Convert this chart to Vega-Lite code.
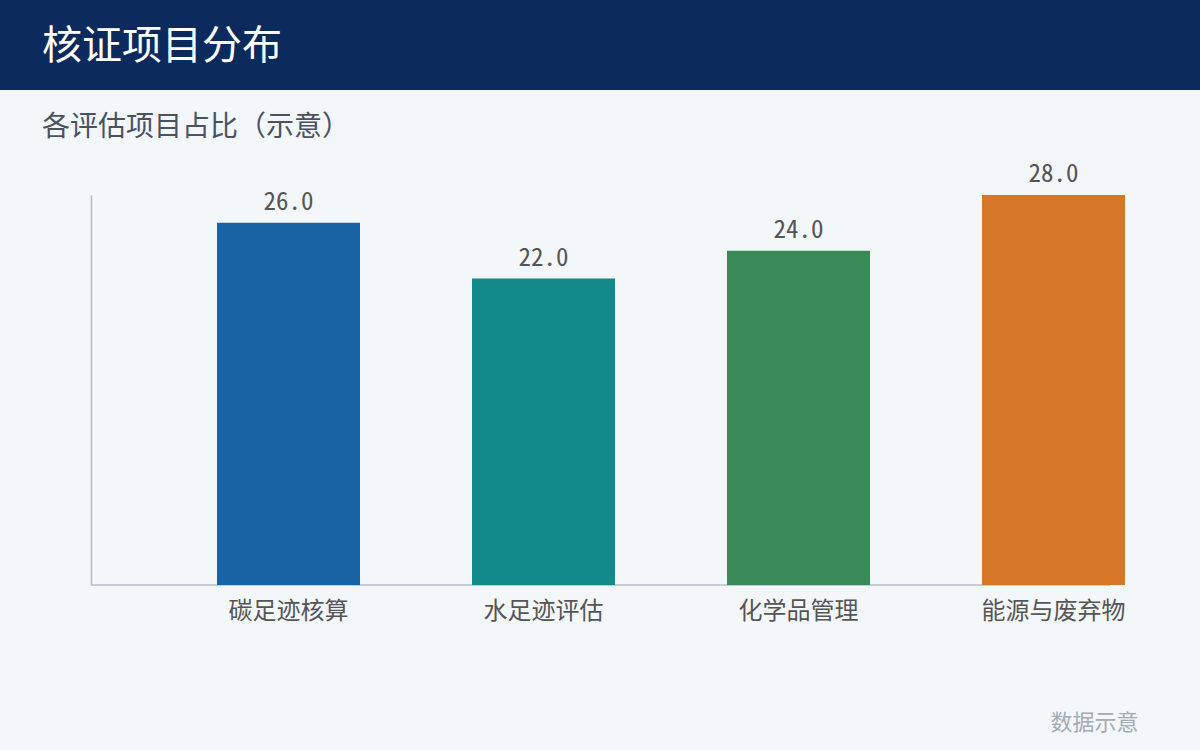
{
  "$schema": "https://vega.github.io/schema/vega-lite/v6.json",
  "width": 1200,
  "height": 660,
  "autosize": {"type": "none"},
  "padding": {"left": 0, "top": 90, "right": 0, "bottom": 0},
  "background": "#0c2a5c",
  "view": {"fill": "#f4f7fa", "stroke": null},
  "title": {
    "text": "核证项目分布",
    "subtitle": "各评估项目占比（示意）",
    "anchor": "start",
    "frame": "group",
    "orient": "top",
    "dx": 42,
    "offset": -51.5,
    "baseline": "top",
    "font": "Noto Sans CJK SC",
    "fontSize": 40,
    "fontWeight": "normal",
    "color": "#ffffff",
    "subtitleFont": "Noto Sans CJK SC",
    "subtitleFontSize": 28,
    "subtitleColor": "#4a5262",
    "subtitlePadding": 47
  },
  "data": {
    "values": [
      {"name": "碳足迹核算", "value": 26.0},
      {"name": "水足迹评估", "value": 22.0},
      {"name": "化学品管理", "value": 24.0},
      {"name": "能源与废弃物", "value": 28.0}
    ]
  },
  "layer": [
    {
      "data": {"values": [{"a": 0, "b": 1}]},
      "mark": {"type": "rule", "color": "#b3bdc9", "strokeWidth": 1.6},
      "encoding": {
        "x": {"field": "a", "type": "quantitative", "scale": {"domain": [0, 1], "range": [91, 1110]}, "axis": null},
        "x2": {"field": "b"},
        "y": {"datum": 0, "type": "quantitative"}
      }
    },
    {
      "encoding": {
        "x": {
          "field": "name", "type": "nominal", "sort": null,
          "scale": {"range": [217, 1125], "paddingInner": 0.4392, "paddingOuter": 0},
          "axis": {
            "domain": false, "ticks": false, "labelAngle": 0, "labelPadding": 14,
            "labelFont": "Noto Sans CJK SC", "labelFontSize": 24, "labelColor": "#555555",
            "offset": -165,
            "title": "数据示意", "titleFont": "Noto Sans CJK SC", "titleFontSize": 22,
            "titleFontWeight": "normal", "titleColor": "#a3abb6", "titleAlign": "right",
            "titleBaseline": "alphabetic", "titleAnchor": "end", "titleX": 1138, "titleY": 144
          }
        },
        "y": {
          "field": "value", "type": "quantitative",
          "scale": {"domain": [0, 28], "range": [495, 105], "nice": false, "zero": true},
          "axis": {
            "orient": "left", "offset": -91, "domain": true, "domainColor": "#b3bdc9", "domainWidth": 1.6,
            "labels": false, "ticks": false, "grid": false, "title": null
          }
        }
      },
      "layer": [
        {
          "mark": {"type": "bar"},
          "encoding": {
            "color": {
              "field": "name", "type": "nominal", "sort": null,
              "scale": {"range": ["#1763a4", "#128a8c", "#3b8b5a", "#d77829"]},
              "legend": null
            }
          }
        },
        {
          "mark": {"type": "text", "baseline": "alphabetic", "dy": -13, "font": "Noto Sans Mono CJK SC", "fontSize": 25, "color": "#555555"},
          "encoding": {
            "text": {"field": "value", "type": "quantitative", "format": ".1f"}
          }
        }
      ]
    }
  ],
  "resolve": {"scale": {"x": "independent"}, "axis": {"x": "independent"}}
}
